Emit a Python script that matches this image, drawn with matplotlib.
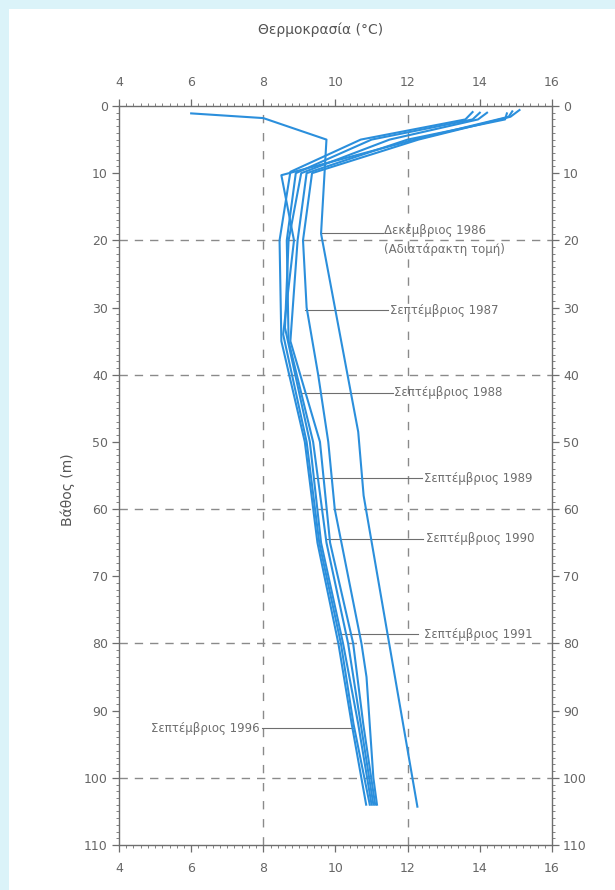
import numpy as np
import matplotlib
matplotlib.use("Agg")
import matplotlib.pyplot as plt
from matplotlib.patches import Rectangle
from matplotlib.ticker import MultipleLocator

# --- DATA ---
dec86_depth = [1.1, 1.8, 5.0, 19.0, 48.5, 58.0, 104.3]
dec86_temp = [6.0, 8.0, 9.75, 9.6, 10.63, 10.78, 12.27]

sep87_depth = [0.6, 1.6, 5.0, 10.0, 20.0, 30.0, 40.0, 50.0, 60.0, 80.0, 85.0, 100.0, 104.0]
sep87_temp = [15.1, 14.85, 12.3, 9.35, 9.1, 9.2, 9.52, 9.8, 9.98, 10.72, 10.86, 11.05, 11.15]

sep88_depth = [1.1, 2.0, 5.0, 10.0, 20.0, 35.0, 50.0, 65.0, 80.0, 92.0, 104.0]
sep88_temp = [14.75, 14.7, 12.0, 9.2, 8.95, 8.75, 9.57, 9.85, 10.49, 10.77, 11.1]

sep89_depth = [1.0, 2.0, 5.0, 10.0, 20.0, 33.0, 50.0, 65.0, 80.0, 92.0, 104.0]
sep89_temp = [14.2, 13.95, 11.5, 9.05, 8.7, 8.6, 9.29, 9.6, 10.21, 10.63, 11.0]

sep90_depth = [1.0, 2.0, 5.0, 10.0, 20.0, 35.0, 50.0, 65.0, 80.0, 92.0, 104.0]
sep90_temp = [14.0, 13.8, 11.0, 8.9, 8.65, 8.7, 9.38, 9.75, 10.35, 10.7, 11.05]

sep91_depth = [0.9, 2.0, 5.0, 9.8, 20.0, 35.0, 50.0, 65.0, 80.0, 92.0, 104.0]
sep91_temp = [13.8, 13.6, 10.7, 8.75, 8.45, 8.5, 9.15, 9.5, 10.08, 10.45, 10.85]

sep96_depth = [0.8, 1.6, 5.0, 10.3, 20.0, 34.0, 50.0, 65.0, 80.0, 92.0, 104.0]
sep96_temp = [14.9, 14.8, 12.2, 8.5, 8.85, 8.55, 9.2, 9.55, 10.15, 10.5, 10.95]

# labels: text, depth of leader, leader start (on profile), leader end, text x
label_text = ["Σεπτέμβριος 1987", "Σεπτέμβριος 1988", "Σεπτέμβριος 1989",
              "Σεπτέμβριος 1990", "Σεπτέμβριος 1991"]
label_depth = [30.4, 42.7, 55.4, 64.4, 78.6]
label_start = [9.15, 9.07, 9.37, 9.76, 10.12]
label_end = [11.45, 11.59, 12.39, 12.42, 12.3]
label_x = [11.5, 11.62, 12.45, 12.5, 12.45]

LINE_COLOR = "#2b8fdc"
GREY = "#6e6e6e"

fig = plt.figure(figsize=(6.15, 8.9), dpi=100, facecolor="#dbf3f9")
bg = fig.add_axes([9 / 615, 0, 1 - 9 / 615, 1 - 9 / 890], zorder=-5)
bg.set_facecolor("white")
bg.set_axis_off()
bg.add_patch(Rectangle((0, 0), 1, 1, transform=bg.transAxes, facecolor="white", edgecolor="none"))

ax = fig.add_axes([0.1935, 0.0506, 0.704, 0.8303])
ax.set_facecolor("white")

# dashed reference grid
for t in [8, 12]:
    ax.axvline(t, color="#8a8a8a", lw=1.0, dashes=(6, 7), zorder=1)
for d in [20, 40, 60, 80, 100]:
    ax.axhline(d, color="#8a8a8a", lw=1.0, dashes=(6, 5), zorder=1)

profiles = [(dec86_temp, dec86_depth), (sep87_temp, sep87_depth), (sep88_temp, sep88_depth),
            (sep89_temp, sep89_depth), (sep90_temp, sep90_depth), (sep91_temp, sep91_depth),
            (sep96_temp, sep96_depth)]
for temp, depth in profiles:
    ax.plot(temp, depth, color=LINE_COLOR, lw=1.5, zorder=3)

# leader lines and labels
ax.plot([9.6, 11.31], [18.9, 18.9], color=GREY, lw=0.8, zorder=2)
ax.text(11.35, 18.6, "Δεκέμβριος 1986", fontsize=8.5, color=GREY, va="center")
ax.text(11.35, 21.3, "(Αδιατάρακτη τομή)", fontsize=8.5, color=GREY, va="center")
for txt, d, x0, x1, xt in zip(label_text, label_depth, label_start, label_end, label_x):
    ax.plot([x0, x1], [d, d], color=GREY, lw=0.8, zorder=2)
    ax.text(xt, d, txt, fontsize=8.5, color=GREY, va="center")
ax.plot([7.96, 10.51], [92.6, 92.6], color=GREY, lw=0.8, zorder=2)
ax.text(7.9, 92.6, "Σεπτέμβριος 1996", fontsize=8.5, color=GREY, va="center", ha="right")

ax.set_xlim(4, 16)
ax.set_ylim(110, 0)
ax.xaxis.set_major_locator(MultipleLocator(2))
ax.xaxis.set_minor_locator(MultipleLocator(0.2))
ax.yaxis.set_major_locator(MultipleLocator(10))
ax.yaxis.set_minor_locator(MultipleLocator(1))
ax.tick_params(which="both", direction="out", colors=GREY, labelcolor="#666666",
               top=True, bottom=True, left=True, right=True,
               labeltop=True, labelbottom=True, labelleft=True, labelright=True)
ax.tick_params(which="major", length=5, width=0.9, labelsize=9)
ax.tick_params(axis="x", which="major", pad=7)
ax.tick_params(axis="y", which="major", pad=3)
ax.tick_params(which="minor", length=2.5, width=0.6)
for s in ax.spines.values():
    s.set_color(GREY)
    s.set_linewidth(1.0)

fig.text(321 / 615, 1 - 30 / 890, "Θερμοκρασία (°C)", fontsize=10, color="#555555",
         ha="center", va="center")
fig.text(68 / 615, 1 - 490 / 890, "Βάθος (m)", fontsize=10, color="#555555",
         ha="center", va="center", rotation=90)

fig.savefig("out.png", dpi=100, facecolor=fig.get_facecolor())
